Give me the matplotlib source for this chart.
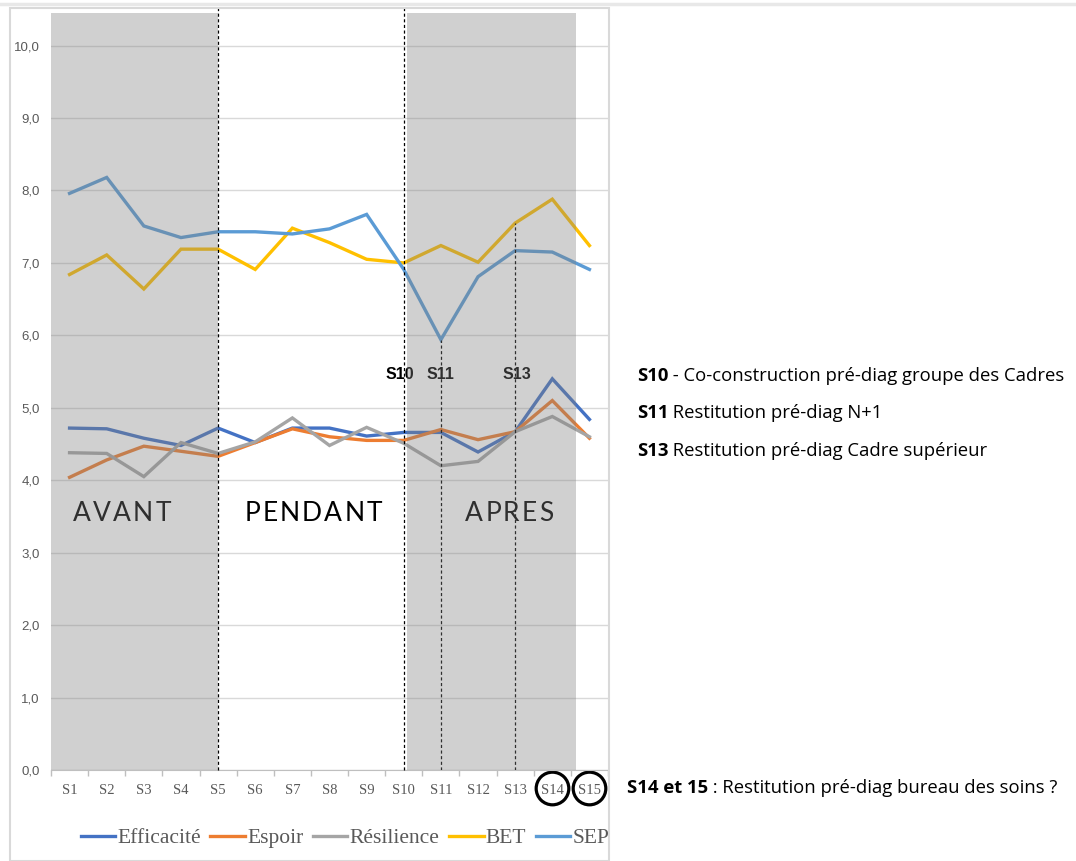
import matplotlib
matplotlib.use("Agg")
import matplotlib.pyplot as plt
from matplotlib.lines import Line2D
from matplotlib.patches import Rectangle
from matplotlib.font_manager import FontProperties
import matplotlib.transforms as mtransforms
import numpy as np

sessions = ["S1", "S2", "S3", "S4", "S5", "S6", "S7", "S8", "S9", "S10",
            "S11", "S12", "S13", "S14", "S15"]
efficacite = [4.72, 4.71, 4.58, 4.48, 4.72, 4.52, 4.72, 4.72, 4.61, 4.66,
              4.66, 4.39, 4.67, 5.40, 4.84]
espoir = [4.04, 4.28, 4.47, 4.40, 4.33, 4.52, 4.71, 4.60, 4.55, 4.55,
          4.70, 4.56, 4.67, 5.10, 4.58]
resilience = [4.38, 4.37, 4.05, 4.52, 4.37, 4.53, 4.86, 4.48, 4.73, 4.51,
              4.20, 4.26, 4.67, 4.88, 4.60]
bet = [6.84, 7.11, 6.64, 7.19, 7.19, 6.91, 7.48, 7.28, 7.05, 7.00,
       7.24, 7.01, 7.55, 7.88, 7.24]
sep = [7.96, 8.18, 7.51, 7.35, 7.43, 7.43, 7.40, 7.47, 7.67, 6.91,
       5.94, 6.81, 7.17, 7.15, 6.91]

series = [("Efficacité", efficacite, "#4472C4"),
          ("Espoir", espoir, "#ED7D31"),
          ("Résilience", resilience, "#A5A5A5"),
          ("BET", bet, "#FFC000"),
          ("SEP", sep, "#5B9BD5")]

phases = ["AVANT", "PENDANT", "APRES"]
notes = [("S10", " - Co-construction pré-diag groupe des Cadres"),
         ("S11", " Restitution pré-diag N+1"),
         ("S13", " Restitution pré-diag Cadre supérieur")]
note_bottom = ("S14 et 15", " : Restitution pré-diag bureau des soins ?")

W, H = 1076, 861
fig = plt.figure(figsize=(W / 100, H / 100), dpi=100)
renderer = fig.canvas.get_renderer()


def fx(x):
    return x / W


def fy(y):
    return 1 - y / H


# chart frame
fig.add_artist(Line2D([0, 1], [fy(4), fy(4)], color="#E8E8E8", lw=2.5))
fig.add_artist(Rectangle((fx(10), fy(861)), fx(599), 853 / H, fill=False,
                         edgecolor="#D9D9D9", lw=1.5))

ax = fig.add_axes([fx(51), fy(770), fx(557), 757 / H])
x = np.arange(1, len(sessions) + 1)

for name, vals, col in series:
    ax.plot(x, vals, color=col, lw=2.4, label=name, solid_joinstyle="miter", zorder=3)

ax.set_xlim(0.5, 15.5)
ax.set_ylim(0, 10.45)
ax.set_yticks(np.arange(0, 11, 1))
ax.set_yticklabels([f"{v:.1f}".replace(".", ",") for v in np.arange(0, 11, 1)],
                   fontfamily="Liberation Sans", fontsize=9.5, color="#595959")
ax.tick_params(axis="y", length=0, pad=8)
ax.grid(axis="y", color="#D9D9D9", lw=1, zorder=0)
ax.set_xticks(x)
ax.set_xticklabels(sessions, fontfamily="Liberation Serif", fontsize=10.5, color="#595959")
ax.set_xticks(np.arange(0.5, 16, 1), minor=True)
ax.tick_params(axis="x", which="major", length=0, pad=10)
ax.tick_params(axis="x", which="minor", length=4, color="#BFBFBF", width=1)
for s in ["top", "right", "left"]:
    ax.spines[s].set_visible(False)
ax.spines["bottom"].set_color("#BFBFBF")

# phase separators
dash = (0, (2.5, 2))
ax.axvline(5, ymin=0, ymax=1.007, color="black", lw=0.9, ls=dash, clip_on=False, zorder=4)
ax.axvline(10, ymin=0, ymax=1.007, color="black", lw=0.9, ls=dash, clip_on=False, zorder=4)
ax.vlines(11, 0, sep[10], color="black", lw=0.9, ls=dash, zorder=4)
ax.vlines(13, 0, bet[12], color="black", lw=0.9, ls=dash, zorder=4)


# phase labels, letter-spaced
def spaced_text(xd, yd, s, spacing, prop):
    widths = [renderer.get_text_width_height_descent(c, prop, ismath=False)[0] for c in s]
    total = sum(widths) + spacing * (len(s) - 1)
    off = -total / 2
    for c, w in zip(s, widths):
        tr = mtransforms.offset_copy(ax.transData, fig=fig, x=off, y=0, units="dots")
        ax.text(xd, yd, c, transform=tr, ha="left", va="center",
                fontproperties=prop, color="black", zorder=4)
        off += w + spacing


phase_font = FontProperties(family="Lato", size=19)
for px_, lab in zip([2.41, 7.56, 12.84], phases):
    spaced_text(px_, 3.54, lab, 2.2, phase_font)

for xi, lab in zip([9.9, 11.0, 13.05], ["S10", "S11", "S13"]):
    ax.text(xi, 5.46, lab, ha="center", va="center", fontsize=11.5,
            fontfamily="Liberation Sans", fontweight="bold", color="black", zorder=4)

# grey overlays for AVANT / APRES
ax.axvspan(0.5, 5.0, color="#808080", alpha=0.37, lw=0, zorder=5)
ax.axvspan(10.1, 14.65, color="#808080", alpha=0.37, lw=0, zorder=5)

# circles around S14 / S15
trans = mtransforms.blended_transform_factory(ax.transData, ax.transAxes)
ax.plot([14, 15], [-0.0235, -0.0235], "o", ms=23.5, mfc="none", mec="black",
        mew=2.3, transform=trans, clip_on=False)

fig.legend(handles=[Line2D([], [], color=c, lw=2.4) for _, _, c in series],
           labels=[n for n, _, _ in series], loc="center",
           bbox_to_anchor=(fx(345), fy(838)), ncol=5, frameon=False,
           prop={"family": "Liberation Serif", "size": 15.5},
           handlelength=1.6, handletextpad=0.1, columnspacing=0.45,
           labelcolor="#595959")


# notes on the right
def note(xp, yp, bold, rest):
    t = fig.text(fx(xp), fy(yp), bold, fontfamily="Open Sans", fontweight="bold",
                 fontsize=13.3, va="center", ha="left", color="black")
    bb = t.get_window_extent(renderer)
    fig.text(bb.x1 / W, fy(yp), rest, fontfamily="Open Sans", fontsize=13.3,
             va="center", ha="left", color="black")


for (b, r), yp in zip(notes, [376, 413, 451]):
    note(637, yp, b, r)
note(627, 788, *note_bottom)

fig.savefig("out.png", dpi=100)
